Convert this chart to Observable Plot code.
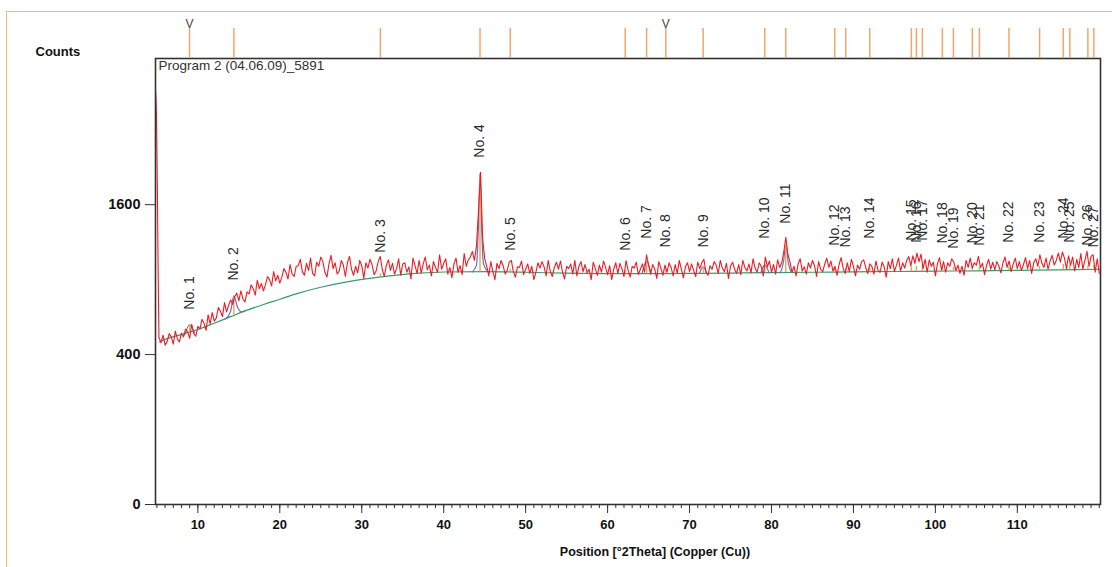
<!DOCTYPE html>
<html><head><meta charset="utf-8">
<script src="https://cdn.jsdelivr.net/npm/d3@7"></script>
<script src="https://cdn.jsdelivr.net/npm/@observablehq/plot@0.6"></script>
<style>
body{margin:0;background:#fff;}
#wrap{position:relative;width:1112px;height:567px;overflow:hidden;font-family:"Liberation Sans",Arial,sans-serif;}
#border{position:absolute;left:6px;top:11px;right:-10px;bottom:-10px;border-top:1.5px solid #f7b577;border-left:1.5px solid #f7b577;pointer-events:none;z-index:5;}
#wrap svg{position:absolute;left:0;top:0;}
</style></head><body><div id="wrap"><div id="border"></div></div>
<script>
// ---- data ----
const peakLabels = ["No. 1","No. 2","No. 3","No. 4","No. 5","No. 6","No. 7","No. 8","No. 9","No. 10","No. 11","No. 12","No. 13","No. 14","No. 15","No. 16","No. 17","No. 18","No. 19","No. 20","No. 21","No. 22","No. 23","No. 24","No. 25","No. 26","No. 27"];
const peakPos = [8.98,14.39,32.27,44.43,48.12,62.15,64.76,67.11,71.66,79.18,81.74,87.72,89.06,91.99,97.07,97.68,98.41,100.85,102.20,104.51,105.37,108.98,112.72,115.61,116.41,118.61,119.34];
const peakTop = [582,784,1007,1971,1024,1024,1129,1050,1050,1129,1267,1067,1050,1129,1111,1093,1111,1085,1041,1085,1067,1093,1093,1129,1093,1067,1050];
const peakBase = [530,636,920,965,962,948,948,949,951,956,958,962,963,964,967,967,967,969,970,972,972,975,978,980,981,984,985];
const peakNet = [45,130,25,980,20,25,100,35,60,70,240,30,30,40,45,40,50,35,30,35,30,25,30,45,40,30,30];
const refMarked = [8.98, 67.11];

const bgPos = [5.3,6,8,10,12,14,16,18,20,22,25,28,31,34,37,40,45,50,55,60,65,70,75,80,85,90,95,100,105,110,115,120];
const bgCounts = [470,485,515,545,585,628,672,712,750,790,840,880,910,935,952,962,965,960,952,948,948,950,953,957,960,963,966,969,972,976,980,985];

const fitGroup = ["p1","p1","p1","p2","p2","p2","p2","p2","p2","p4","p4","p4","p4","p4","p4","p4","p7","p7","p7","p9","p9","p9","p10","p10","p10","p11","p11","p11","p11","p11"];
const fitPos = [8.4,8.98,9.6,13.4,14.0,14.39,14.8,15.3,15.8,43.5,44.0,44.25,44.43,44.62,44.85,45.4,64.2,64.76,65.3,71.2,71.66,72.1,78.7,79.18,79.7,81.1,81.45,81.74,82.05,82.4];
const fitCounts = [512,575,525,612,665,775,700,660,668,963,1020,1400,1950,1400,1030,966,948,1055,948,951,1005,951,955,1020,956,957,1040,1200,1040,958];

const spikePos = [4.86,4.95,5.05,5.15];
const spikeCounts = [3020,2700,1850,980];
const obsStart = 5.25, obsStep = 0.25;
const obsCounts = [
498,465,510,452, 472,520,500,458, 535,488,470,522, 500,548,530,492, 578,520,505,565,
548,610,585,540, 640,580,655,598, 620,690,665,628, 725,660,705,745, 712,770,795,738,
812,752,730,805, 790,858,830,780, 895,828,870,812, 860,925,900,850, 965,890,935,872,
920,990,960,905, 1025,945,925,1010, 1015,1070,965,935, 1035,975,1080,950, 930,1045,1010,1090,
1050,960,920,1030, 1105,990,1040,945, 970,1060,1020,925, 1040,1095,985,935, 1010,955,1060,1015,
910,1040,995,1070, 1025,940,970,1050, 1095,985,925,1020, 1065,975,1035,945, 990,1075,935,1030,
1040,960,1005,905, 1080,1015,950,1060, 955,1030,1090,980, 1020,930,1050,1000, 960,1110,985,1035,
1075,945,1000,915, 1030,1080,960,1015, 940,1120,1010,1065, 1090,1140,1060,1190, 1540,1965,1260,1075,
1010,930,1050,965, 900,1035,990,1060, 1015,945,975,1045, 1060,965,920,1005, 1000,1055,940,985,
1030,950,1010,900, 960,1040,995,1050, 1005,930,1060,970, 925,1000,1045,985, 1055,960,905,1010,
990,1030,945,1060, 930,1010,1050,965, 1025,955,985,900, 1045,990,935,1020, 960,1055,1000,940,
1015,900,985,1040, 950,1035,990,925, 1060,975,920,1010, 995,1045,940,985, 1030,960,1110,1020,
945,1025,985,910, 1050,995,935,1020, 960,1040,1000,930, 1025,950,1060,985, 915,1005,1040,965,
1030,975,925,1045, 990,1040,1070,960, 935,1015,985,1050, 1020,950,1060,995, 965,1035,910,1010,
1045,985,950,1025, 940,1060,1000,970, 1030,955,1075,995, 960,1040,1010,930, 1090,1005,1055,960,
1025,945,1065,1000, 1040,1135,1270,1115, 1050,960,1010,930, 1030,1075,970,1005, 945,1040,995,1060,
1015,925,1050,985, 965,1030,1080,1000, 1055,970,1010,935, 1025,1085,990,950, 1040,965,1070,1010,
930,1020,985,1050, 1065,1000,950,1030, 1010,945,1055,975, 960,1045,1005,920, 1050,990,1075,965,
1020,1080,970,1040, 995,1060,1095,1015, 1100,1035,1125,1050, 1115,990,1070,960, 1065,1010,1045,930,
1030,1085,980,1050, 960,1040,1010,1075, 1045,975,1020,950, 1010,935,1060,1000, 1080,995,1040,1020,
1095,1000,1035,940, 1020,1070,985,1045, 980,1050,1010,955, 1040,1090,1000,1055, 965,1030,1080,990,
1050,975,1025,1085, 990,1060,950,1040, 1075,1010,1110,1035, 1000,1080,985,1055, 1105,1020,1060,1125,
1045,1135,1080,990, 1100,1020,1090,970, 1070,1000,1120,985, 1060,1140,1010,1095, 1110,960,1075,950
];

const xTicks = [10,20,30,40,50,60,70,80,90,100,110];
const xMinorTicks = d3.range(5, 121);
const yTicks = [0,400,1600];
const chartTitle = "Program 2 (04.06.09)_5891";
const xTitle = "Position [°2Theta] (Copper (Cu))";
const yTitle = "Counts";

// ---- tables ----
const obs = spikePos.map((x,i)=>({x, y: spikeCounts[i]}))
  .concat(obsCounts.map((y,i)=>({x: obsStart + i*obsStep, y})));
const bg = bgPos.map((x,i)=>({x, y: bgCounts[i]}));
const fit = fitPos.map((x,i)=>({x, y: fitCounts[i], g: fitGroup[i]}));
const peaks = peakPos.map((pos,i)=>({pos, top: peakTop[i], base: peakBase[i], tip: peakBase[i]+peakNet[i], label: peakLabels[i]}));

const W = 1112, H = 567;
const xDomain = [4.83, 120.15];
const yMax = 3540;
const FF = '"Liberation Sans", Arial, sans-serif';

const mainPlot = Plot.plot({
  width: W, height: H,
  marginTop: 58, marginBottom: 63, marginLeft: 155, marginRight: 12,
  style: {background: "transparent", fontFamily: FF, overflow: "visible", color: "#111"},
  x: {domain: xDomain},
  y: {type: "sqrt", domain: [0, yMax]},
  marks: [
    Plot.line(bg, {x: "x", y: "y", stroke: "#3a9a70", strokeWidth: 1.2, curve: "monotone-x"}),
    Plot.line(fit, {x: "x", y: "y", z: "g", stroke: "#6570c0", strokeWidth: 1.2, curve: "monotone-x"}),
    Plot.ruleX(peaks, {x: "pos", y1: "base", y2: "tip", stroke: "#f2a24e", strokeWidth: 1.4}),
    Plot.line(obs, {x: "x", y: "y", stroke: "#ec1c24", strokeWidth: 1.1}),
    Plot.text(peaks, {x: "pos", y: "top", text: "label", rotate: -90, textAnchor: "start", dy: -14, fontSize: 14, fill: "#2a2a2a", fontFamily: FF}),
    Plot.text([chartTitle], {text: d=>d, frameAnchor: "top-left", dx: 3, dy: 2, lineAnchor: "top", textAnchor: "start", fontSize: 13.5, fill: "#333", fontFamily: FF}),
    Plot.frame({stroke: "#333", strokeWidth: 1.6}),
    Plot.axisX(xMinorTicks, {tickSize: 4, tickFormat: () => "", label: null, stroke: "#333"}),
    Plot.axisX(xTicks, {tickSize: 9, tickPadding: 6, tickFormat: d3.format("d"), fontSize: 13, fontWeight: "bold", label: null, stroke: "#333", fontFamily: FF}),
    Plot.axisY(yTicks, {tickSize: 10, tickPadding: 5, tickFormat: d3.format("d"), fontSize: 14.5, fontWeight: "bold", label: null, stroke: "#333", fontFamily: FF}),
    Plot.text([xTitle], {text: d=>d, frameAnchor: "bottom", dx: 27, dy: 47, lineAnchor: "middle", fontWeight: "bold", fontSize: 12.5, fontFamily: FF, fill: "#111"}),
    Plot.text([yTitle], {text: d=>d, frameAnchor: "top-left", dx: -120, dy: -3, lineAnchor: "bottom", textAnchor: "start", fontWeight: "bold", fontSize: 13, fontFamily: FF, fill: "#111"})
  ]
});

const stickPlot = Plot.plot({
  width: W, height: 58,
  marginTop: 28, marginBottom: 0, marginLeft: 155, marginRight: 12,
  style: {background: "transparent", fontFamily: FF, overflow: "visible"},
  x: {domain: xDomain, axis: null},
  y: {domain: [0, 1], axis: null},
  marks: [
    Plot.ruleX(peakPos, {x: d=>d, y1: 0, y2: 1, stroke: "#f2a66a", strokeWidth: 1.5}),
    Plot.text(refMarked, {x: d=>d, y: 1, text: () => "V", lineAnchor: "bottom", dy: -1, fontSize: 12, fill: "#444"})
  ]
});

const wrap = document.getElementById("wrap");
wrap.appendChild(mainPlot);
wrap.appendChild(stickPlot);
</script>
</body></html>
